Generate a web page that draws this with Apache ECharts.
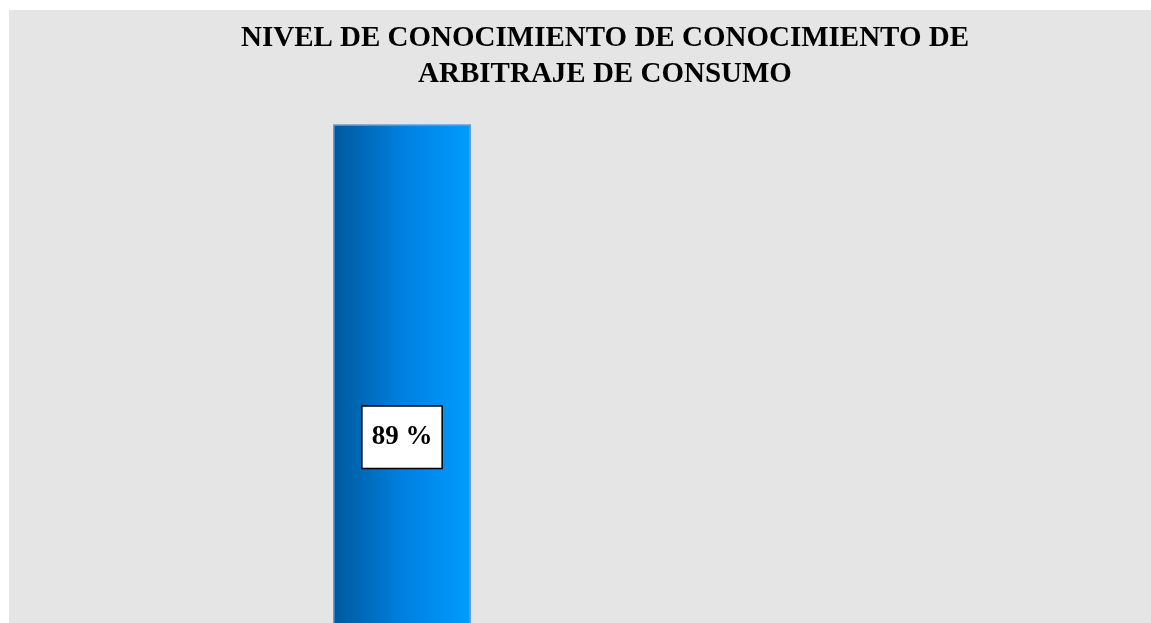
<!DOCTYPE html>
<html>
<head>
<meta charset="utf-8">
<script src="https://cdn.jsdelivr.net/npm/echarts@6/dist/echarts.min.js"></script>
<style>
  html, body { margin: 0; padding: 0; background: #ffffff; overflow: hidden; }
  /* the chart is larger than the window, the reference is a crop of it */
  #chart { position: absolute; left: 9px; top: 10px; width: 1250px; height: 740px; }
</style>
</head>
<body>
<div id="chart"></div>
<script>
const titleText = 'NIVEL DE CONOCIMIENTO DE CONOCIMIENTO DE\nARBITRAJE DE CONSUMO'
const categories = ['SI', 'NO']
const values = [89, 11]

const chart = echarts.init(document.getElementById('chart'))

const barGradient = new echarts.graphic.LinearGradient(0, 0, 1, 0, [
  { offset: 0, color: '#00589c' },
  { offset: 0.5, color: '#0080e0' },
  { offset: 1, color: '#009cff' }
])

const option = {
  backgroundColor: '#e5e5e5',
  animation: false,
  title: {
    text: titleText,
    left: 596,
    top: 11,
    padding: 0,
    textAlign: 'center',
    textStyle: {
      fontFamily: 'Liberation Serif',
      fontWeight: 'bold',
      fontSize: 29,
      lineHeight: 36,
      color: '#000'
    }
  },
  grid: {
    left: 191,
    right: 251,
    top: 37,
    bottom: 0
  },
  xAxis: {
    type: 'category',
    data: categories,
    show: false
  },
  yAxis: {
    type: 'value',
    min: 0,
    max: 100,
    show: false,
    splitLine: { show: false }
  },
  series: [
    {
      type: 'bar',
      data: values,
      barWidth: 138,
      itemStyle: {
        color: barGradient,
        borderColor: '#6a9fd8',
        borderWidth: 1.5
      },
      label: {
        show: true,
        position: 'inside',
        formatter: '{c} %',
        fontFamily: 'Liberation Serif',
        fontWeight: 'bold',
        fontSize: 27,
        color: '#000',
        backgroundColor: '#ffffff',
        borderColor: '#000',
        borderWidth: 1.5,
        padding: [18, 9, 16, 9]
      }
    }
  ]
}

chart.setOption(option)
</script>
</body>
</html>
